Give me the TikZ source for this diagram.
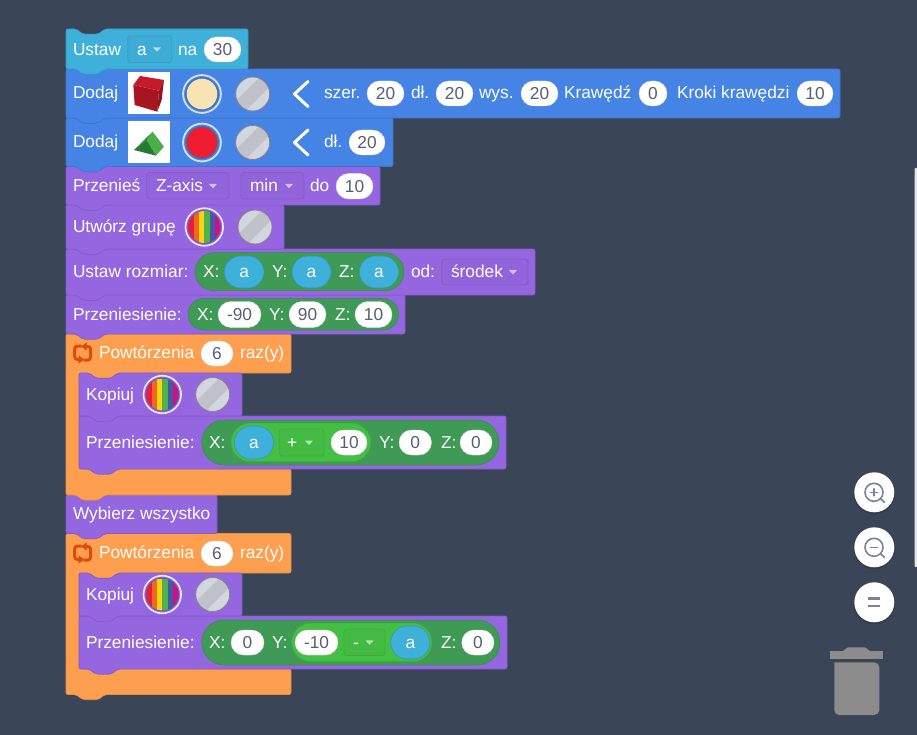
\documentclass[tikz,border=0pt]{standalone}
\usepackage{fontspec}
\setmainfont{Liberation Sans}
\usetikzlibrary{arrows.meta}
\definecolor{bgc}{HTML}{3A4557}
\definecolor{cyanb}{HTML}{3FB0D9}
\definecolor{blueb}{HTML}{4583E4}
\definecolor{purpb}{HTML}{9466E0}
\definecolor{orngb}{HTML}{FD9F4E}
\definecolor{grnd}{HTML}{3F9A55}
\definecolor{grnl}{HTML}{44BF44}
\definecolor{valc}{HTML}{575E75}
\definecolor{ui}{HTML}{7D819B}
\definecolor{trash}{HTML}{8C8C8C}
\definecolor{HatchA}{HTML}{BCC3CF}
\definecolor{HatchB}{HTML}{D2D7DF}
\definecolor{HatchC}{HTML}{DDB9A5}
\definecolor{HatchD}{HTML}{8D7F88}
\definecolor{RbA}{HTML}{ED1C34}
\definecolor{RbB}{HTML}{E86A25}
\definecolor{RbC}{HTML}{FDD20F}
\definecolor{RbD}{HTML}{4FB24A}
\definecolor{RbE}{HTML}{3F5BA6}
\definecolor{RbF}{HTML}{D0107F}
\definecolor{LoopC}{HTML}{DF4A0E}
\definecolor{CubeF}{HTML}{A81521}
\definecolor{CubeT}{HTML}{C41A2A}
\definecolor{CubeR}{HTML}{951420}
\definecolor{RoofL}{HTML}{4BB04A}
\definecolor{RoofD}{HTML}{2F8B38}
\definecolor{RoofF}{HTML}{257A30}
\definecolor{SwA}{HTML}{F8E3B3}
\definecolor{SwB}{HTML}{ED1C2E}
\definecolor{SwRing}{HTML}{D3E2F8}
\definecolor{SwIn}{HTML}{3F6FBA}
\definecolor{RbRing}{HTML}{EFE8FB}
\definecolor{RbIn}{HTML}{6A55B5}
\tikzset{
  basefont/.style={font=\fontsize{17.3}{20}\selectfont,inner sep=0pt,outer sep=0pt},
  lbl/.style={basefont,text=white,anchor=base west},
  val/.style={basefont,text=valc,anchor=base},
  vala/.style={basefont,text=white,anchor=base},
  uibtn/.style={fill=white},
  uiline/.style={draw=ui,line width=1.6pt,line cap=round},
}
\newcounter{nid}
\newcommand\lb[3]{\stepcounter{nid}\node[lbl] (n\thenid) at (#1,#2+5.8) {#3};}
\newcommand\blk[5]{\path[fill=#1,draw=#1!90!black,line width=.7pt,rounded corners=2pt]
  (#2,#3) -- ++(10,0) -- ++(7,5.2) -- ++(15,0) -- ++(7,-5.2) -- (#4,#3) -- (#4,#5)
  -- (#2+39,#5) -- ++(-7,5.2) -- ++(-15,0) -- ++(-7,-5.2) -- (#2,#5) -- cycle;}
\newcommand\cblk[7]{\path[fill=orngb,draw=orngb!90!black,line width=.7pt,rounded corners=2pt]
  (#1,#2) -- ++(10,0) -- ++(7,5.2) -- ++(15,0) -- ++(7,-5.2) -- (#3,#2) -- (#3,#4)
  -- (#5+39,#4) -- ++(-7,5.2) -- ++(-15,0) -- ++(-7,-5.2) -- (#5,#4) -- (#5,#6) -- (#3,#6) -- (#3,#7)
  -- (#1+39,#7) -- ++(-7,5.2) -- ++(-15,0) -- ++(-7,-5.2) -- (#1,#7) -- cycle;}
\newcommand\pillw[5]{\pgfmathsetmacro\rr{(#4-#3)/2}\stepcounter{nid}
  \path[fill=white,draw=black!12,line width=.4pt,rounded corners=\rr pt] (#1,#3) rectangle (#2,#4);
  \node[val] (n\thenid) at ({(#1+#2)/2},{(#3+#4)/2+5.8}) {#5};}
\newcommand\pilla[4]{\pgfmathsetmacro\rr{(#4-#3)/2}\stepcounter{nid}
  \path[fill=cyanb,draw=cyanb!85!black,line width=.6pt,rounded corners=\rr pt] (#1,#3) rectangle (#2,#4);
  \node[vala] (n\thenid) at ({(#1+#2)/2},{(#3+#4)/2+5.8}) {a};}
\newcommand\pillg[5]{\pgfmathsetmacro\rr{(#4-#3)/2}
  \path[fill=#5,draw=#5!90!black,line width=.5pt,rounded corners=\rr pt] (#1,#3) rectangle (#2,#4);}
% colour, x1, x2, y1, y2, text x, text, arrow x
\newcommand\dd[8]{\pgfmathsetmacro\cy{(#4+#5)/2}
  \path[fill=#1!98!black,draw=#1!90!black,line width=.8pt,rounded corners=3pt] (#2,#4) rectangle (#3,#5);
  \lb{#6}{\cy}{#7}
  \path[fill=white,opacity=.6] (#8-4,\cy-1.8) -- (#8+4,\cy-1.8) -- (#8,\cy+2.5) -- cycle;}
\newcommand\hatched[2]{\begin{scope}
  \clip (#1,#2) circle (17);
  \fill[fill=HatchA] (#1-18,#2-18) rectangle (#1+18,#2+18);
  \draw[draw=HatchB,line width=8.5pt] (#1-20,#2+4) -- (#1+4,#2-20);
  \draw[draw=HatchB,line width=8.5pt] (#1-4,#2+20) -- (#1+20,#2-4);
  \draw[draw=HatchC,line width=.6pt] (#1-22,#2+16) -- (#1+16,#2-22);
  \draw[draw=HatchC,line width=.6pt] (#1-16,#2+22) -- (#1+22,#2-16);
  \end{scope}
  \draw[draw=HatchD,line width=.8pt] (#1,#2) circle (17);}
\newcommand\swatch[3]{\draw[draw=SwRing,line width=1.8pt] (#1,#2) circle (18.9);
  \fill[fill=SwIn] (#1,#2) circle (16.6);
  \fill[fill=#3] (#1,#2) circle (15.3);}
\newcommand\rainbow[2]{\draw[draw=RbRing,line width=1.6pt] (#1,#2) circle (18.8);
  \fill[fill=RbIn] (#1,#2) circle (16.8);
  \begin{scope}\clip (#1,#2) circle (16);
  \fill[fill=RbA] (#1-16,#2-16) rectangle (#1-10.67,#2+16);
  \fill[fill=RbB] (#1-10.67,#2-16) rectangle (#1-5.33,#2+16);
  \fill[fill=RbC] (#1-5.33,#2-16) rectangle (#1,#2+16);
  \fill[fill=RbD] (#1,#2-16) rectangle (#1+5.33,#2+16);
  \fill[fill=RbE] (#1+5.33,#2-16) rectangle (#1+10.67,#2+16);
  \fill[fill=RbF] (#1+10.67,#2-16) rectangle (#1+16,#2+16);
  \end{scope}}
\newcommand\chev[1]{\draw[draw=white,line width=3pt,line cap=round,line join=round] (308,#1-12.5) -- (294.5,#1) -- (308,#1+12.5);}
\newcommand\loopicon[2]{\draw[draw=LoopC,line width=3pt,rounded corners=3pt,-{Stealth[length=5.5pt,width=8pt,inset=0pt]}] (#1-1,#2-7) -- (#1-8,#2-7) -- (#1-8,#2+6.5) -- (#1+1.5,#2+6.5);
  \draw[draw=LoopC,line width=3pt,rounded corners=3pt,-{Stealth[length=5.5pt,width=8pt,inset=0pt]}] (#1+1,#2+7) -- (#1+8,#2+7) -- (#1+8,#2-6.5) -- (#1-1.5,#2-6.5);}
\begin{document}
\begin{tikzpicture}[x=1pt,y=-1pt]
\useasboundingbox (0,0) rectangle (917,735);
\fill[fill=bgc] (0,0) rectangle (917,735);
% scrollbar
\fill[fill=black!10,rounded corners=1pt] (914.5,168) rectangle (919,567);

% blocks, lowest first so each tab overlaps the block beneath it
\cblk{66}{533.5}{291}{573}{79}{669}{694.5}
\blk{purpb}{79}{616}{507}{669}
\blk{purpb}{79}{573}{242}{616}
\blk{purpb}{66}{495}{217}{533.5}
\cblk{66}{334}{291}{373}{79}{469}{495}
\blk{purpb}{79}{416}{506}{469}
\blk{purpb}{79}{373}{242}{416}
\blk{purpb}{66}{295}{405}{334}
\blk{purpb}{66}{249}{535}{295}
\blk{purpb}{66}{205}{284}{249}
\blk{purpb}{66}{166.5}{380}{205}
\blk{blueb}{66}{118}{393}{166.5}
\blk{blueb}{66}{69}{840}{118}
\blk{cyanb}{66}{29}{248}{69}

% Ustaw a na 30
\lb{73}{49.5}{Ustaw}
\dd{cyanb}{127.7}{171.7}{36}{62.5}{137}{a}{157}
\lb{178}{49.5}{na}
\pillw{204}{241}{37}{62}{30}

% Dodaj 1
\lb{73}{93}{Dodaj}
\fill[fill=white] (128,72) rectangle (170,114);
\begin{scope}[shift={(120,65)},x=.3333pt,y=-.3333pt]
  \fill[fill=CubeF] (40,60) -- (117,77) -- (112,140) -- (44,120) -- cycle;
  \fill[fill=CubeT] (40,60) -- (60,33) -- (132,45) -- (117,77) -- cycle;
  \fill[fill=CubeR] (117,77) -- (132,45) -- (125,105) -- (112,140) -- cycle;
\end{scope}
\swatch{202}{94}{SwA}
\hatched{252.7}{94}
\chev{94}
\lb{324}{93}{szer.}
\pillw{367}{404}{81}{106}{20}
\lb{411}{93}{dł.}
\pillw{436}{473}{81}{106}{20}
\lb{479}{93}{wys.}
\pillw{521}{558}{81}{106}{20}
\lb{564}{93}{Krawędź}
\pillw{639}{667}{81}{106}{0}
\lb{677}{93}{Kroki krawędzi}
\pillw{797}{833}{81}{106}{10}

% Dodaj 2
\lb{73}{142}{Dodaj}
\fill[fill=white] (128,121) rectangle (170,163);
\begin{scope}[shift={(120,65)},x=.3333pt,y=-.3333pt]
  \fill[fill=RoofL] (98,200) -- (132,245) -- (108,272) -- (80,225) -- cycle;
  \fill[fill=RoofD] (42,255) -- (98,200) -- (80,225) -- cycle;
  \fill[fill=RoofF] (42,255) -- (80,225) -- (108,272) -- cycle;
\end{scope}
\swatch{202}{142.5}{SwB}
\hatched{252.7}{142.5}
\chev{142.5}
\lb{324}{142}{dł.}
\pillw{349}{385}{130}{155}{20}

% Przenies
\lb{73}{186}{Przenieś}
\dd{purpb}{146.7}{229}{172.5}{199}{156}{Z-axis}{213}
\dd{purpb}{241}{304}{172.5}{199}{250}{min}{289}
\lb{310}{186}{do}
\pillw{336}{373}{173.5}{199}{10}

% Utworz grupe
\lb{73}{227}{Utwórz grupę}
\rainbow{204.3}{227}
\hatched{255}{227}

% Ustaw rozmiar
\lb{73}{272}{Ustaw rozmiar:}
\pillg{195}{404}{252.7}{290.7}{grnd}
\lb{203}{272}{X:}
\pilla{224.3}{264}{256}{288}
\lb{272}{272}{Y:}
\pilla{292}{331}{256}{288}
\lb{339}{272}{Z:}
\pilla{359.5}{398.5}{256}{288}
\lb{411}{272}{od:}
\dd{purpb}{441.7}{528}{259}{285}{451}{środek}{513}

% Przeniesienie
\lb{73}{314.5}{Przeniesienie:}
\pillg{188}{398.5}{298.5}{330}{grnd}
\lb{197}{314.5}{X:}
\pillw{218}{261}{301.5}{327.5}{-90}
\lb{269}{314.5}{Y:}
\pillw{289}{326}{301.5}{327.5}{90}
\lb{335}{314.5}{Z:}
\pillw{355}{392}{301.5}{327.5}{10}

% Powtorzenia 1
\loopicon{82.7}{353}
\lb{99}{353}{Powtórzenia}
\pillw{201}{233}{341}{366}{6}
\lb{240}{353}{raz(y)}
\lb{86}{394.5}{Kopiuj}
\rainbow{162.3}{394.5}
\hatched{212.7}{394.5}
\lb{86}{442.5}{Przeniesienie:}
\pillg{201.7}{499}{420}{465}{grnd}
\lb{209}{442.5}{X:}
\pillg{231}{370.7}{423}{461.7}{grnl}
\pilla{234.3}{273.5}{426}{459}
\dd{grnl}{279.3}{324}{429}{456}{287}{+}{309}
\pillw{331}{367}{430}{455}{10}
\lb{379}{442.5}{Y:}
\pillw{399}{431.5}{430}{455}{0}
\lb{441}{442.5}{Z:}
\pillw{460}{492}{430}{455}{0}

% Wybierz wszystko
\lb{73}{514}{Wybierz wszystko}

% Powtorzenia 2
\loopicon{82.7}{553}
\lb{99}{553}{Powtórzenia}
\pillw{201}{233}{541}{566}{6}
\lb{240}{553}{raz(y)}
\lb{86}{594.5}{Kopiuj}
\rainbow{162.3}{594.5}
\hatched{212.7}{594.5}
\lb{86}{642.5}{Przeniesienie:}
\pillg{201.7}{500}{620}{665}{grnd}
\lb{209}{642.5}{X:}
\pillw{231}{264}{630}{655}{0}
\lb{272}{642.5}{Y:}
\pillg{291.7}{432}{623}{661.7}{grnl}
\pillw{295}{338}{630}{655}{-10}
\dd{grnl}{344}{385}{629}{655.5}{353}{-}{369.5}
\pilla{390.7}{430}{626}{659}
\lb{441}{642.5}{Z:}
\pillw{461.7}{494}{630}{655}{0}

% zoom controls
\fill[fill=black,opacity=.12] (874.3,493.3) circle (21);
\fill[fill=black,opacity=.12] (874.3,548.3) circle (21);
\fill[fill=black,opacity=.12] (874.3,603.3) circle (21);
\fill[uibtn] (874.3,492.3) circle (20);
\fill[uibtn] (874.3,547.3) circle (20);
\fill[uibtn] (874.3,602.3) circle (20);
\draw[uiline] (874,492.3) circle (9);
\draw[uiline] (880.6,498.8) -- (884.5,502.5);
\draw[uiline] (870.5,492.3) -- (877.5,492.3);
\draw[uiline] (874,488.8) -- (874,495.8);
\draw[uiline] (874,547.3) circle (9);
\draw[uiline] (880.6,553.8) -- (884.5,557.5);
\draw[uiline] (870.5,547.3) -- (877.5,547.3);
\draw[draw=ui,line width=2.2pt] (868.3,598.5) -- (880.3,598.5);
\draw[draw=ui,line width=2.2pt] (868.3,605.8) -- (880.3,605.8);

% trash
\fill[fill=trash] (830.3,651) rectangle (882.7,658.7);
\fill[fill=trash] (843,651) -- (848,647.3) -- (865,647.3) -- (870,651) -- cycle;
\fill[fill=trash,rounded corners=5pt] (834.3,662.3) -- (834.3,715) -- (879.3,715) -- (879.3,662.3) [sharp corners] -- cycle;
\end{tikzpicture}
\end{document}
